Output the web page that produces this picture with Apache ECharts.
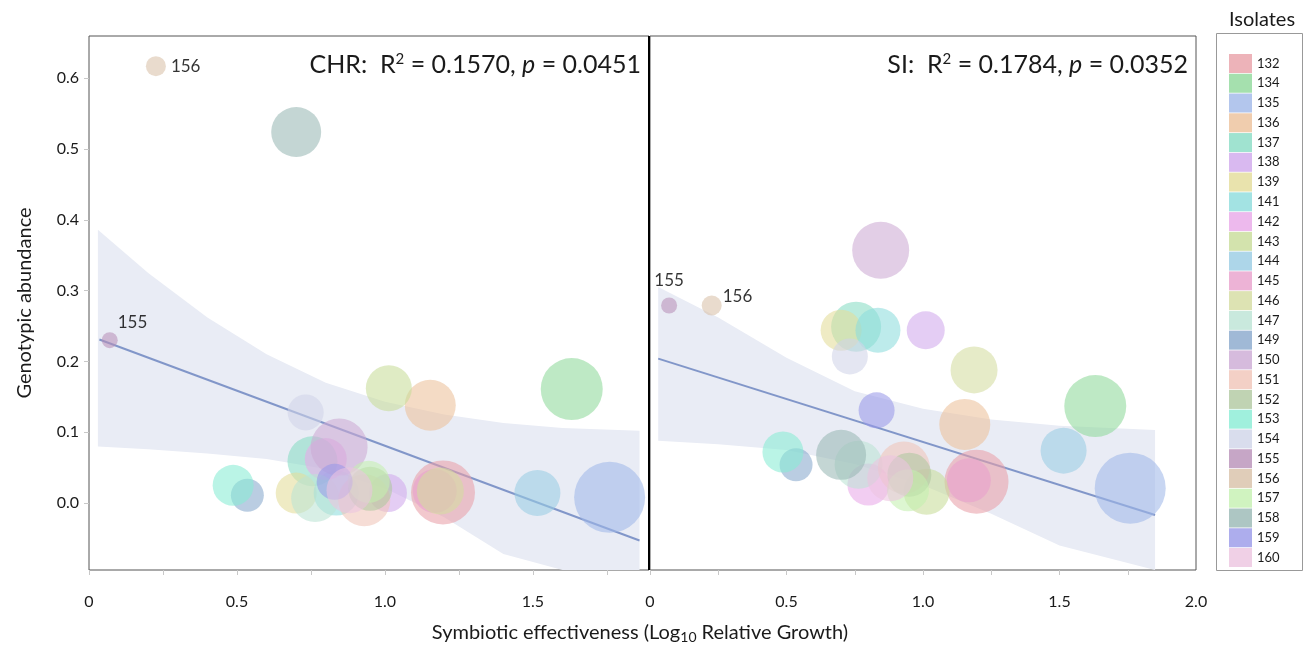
<!DOCTYPE html>
<html>
<head>
<meta charset="utf-8">
<title>Genotypic abundance vs symbiotic effectiveness</title>
<script src="https://cdn.jsdelivr.net/npm/echarts@6/dist/echarts.min.js"></script>
<style>
  html, body { margin: 0; padding: 0; background: #fff; }
  #chart { width: 1304px; height: 648px; }
</style>
</head>
<body>
<div id="chart"></div>
<script>
const isolates = ['132', '134', '135', '136', '137', '138', '139', '141', '142', '143', '144', '145', '146',
  '147', '149', '150', '151', '152', '153', '154', '155', '156', '157', '158', '159', '160']
const colors = ['#e8a0a8', '#8fd89a', '#a0b8e8', '#ecc09a', '#88dcc4', '#d0a8ec', '#e4dc98', '#8cdcdc', '#e8a8e8',
  '#c8dc98', '#98cce4', '#e8a0cc', '#d4dca0', '#bce4d4', '#88a8cc', '#ccaad4', '#f0c4b8', '#b0c8a0',
  '#88ecd4', '#d0d4e8', '#b890b8', '#d8c0a8', '#c4f0b0', '#98b8b4', '#9898e8', '#ecc4e0']

// symbiotic effectiveness (log10 relative growth), one per isolate
const effectiveness = [1.196, 1.631, 1.759, 1.153, 0.755, 1.01, 0.70, 0.835, 0.80, 1.013, 1.515, 1.168, 1.187,
  0.764, 0.535, 0.845, 0.93, 0.95, 0.487, 0.732, 0.07, 0.226, 0.945, 0.70, 0.83, 0.88]
// genotypic abundance in CHR and SI
const chrAbundance = [0.015, 0.161, 0.008, 0.138, 0.059, 0.014, 0.014, 0.014, 0.062, 0.162, 0.014, 0.017, 0.017,
  0.007, 0.011, 0.079, 0.004, 0.020, 0.025, 0.128, 0.230, 0.617, 0.030, 0.524, 0.030, 0.018]
const siAbundance = [0.030, 0.137, 0.021, 0.111, 0.249, 0.244, 0.244, 0.244, 0.026, 0.016, 0.074, 0.032, 0.188,
  0.054, 0.054, 0.357, 0.050, 0.040, 0.072, 0.207, 0.279, 0.279, 0.018, 0.068, 0.131, 0.035]
// bubble weight
const bubbleWeight = [6.4, 6.2, 7.1, 5.1, 5.0, 3.8, 4.1, 4.5, 4.2, 4.6, 4.6, 4.4, 4.7,
  4.8, 3.3, 5.7, 5.2, 4.4, 4.1, 3.6, 1.6, 2.0, 4.2, 5.0, 3.6, 4.6]

const xTicks = [0, 0.25, 0.5, 0.75, 1, 1.25, 1.5, 1.75]
const xLabelsChr = [0, 0.5, 1, 1.5]
const xLabelsSi = [0, 0.5, 1, 1.5, 2]
const yLabels = [0, 0.1, 0.2, 0.3, 0.4, 0.5, 0.6]

// fitted lines and confidence bands
const chrFitX = [0.035, 1.86]
const chrFitY = [0.231, -0.053]
const chrBandX = [0.03, 0.2, 0.4, 0.6, 0.8, 1.0, 1.2, 1.4, 1.6, 1.86]
const chrBandUpper = [0.386, 0.325, 0.262, 0.210, 0.170, 0.143, 0.125, 0.113, 0.106, 0.102]
const chrBandLower = [0.080, 0.076, 0.070, 0.062, 0.048, 0.021, -0.020, -0.072, -0.130, -0.210]

const siFitX = [0.03, 1.85]
const siFitY = [0.204, -0.017]
const siBandX = [0.03, 0.25, 0.5, 0.75, 1.0, 1.25, 1.5, 1.85]
const siBandUpper = [0.305, 0.262, 0.205, 0.158, 0.133, 0.118, 0.109, 0.103]
const siBandLower = [0.088, 0.083, 0.075, 0.055, 0.025, -0.015, -0.060, -0.140]

const FONT = 'Lato, "Open Sans", sans-serif'
const TXT = '#1a1a1a'
const BUBBLE_ALPHA = 0.72

function fmt(v) {
  return v === 0 ? '0' : v.toFixed(1)
}

function withAlpha(hex, a) {
  const n = parseInt(hex.slice(1), 16)
  return 'rgba(' + (n >> 16) + ',' + ((n >> 8) & 255) + ',' + (n & 255) + ',' + a + ')'
}

function bandSeries(xs, up, lo, idx) {
  const rows = xs.map((x, i) => [x, up[i], lo[i]])
  return {
    type: 'custom',
    xAxisIndex: idx,
    yAxisIndex: idx,
    silent: true,
    clip: true,
    z: 1,
    data: rows,
    renderItem: (params, api) => {
      if (params.dataIndex !== 0) return
      const top = rows.map((r) => api.coord([r[0], r[1]]))
      const bottom = rows.map((r) => api.coord([r[0], r[2]])).reverse()
      const cs = params.coordSys
      const pts = echarts.graphic.clipPointsByRect(top.concat(bottom), {
        x: cs.x, y: cs.y, width: cs.width, height: cs.height,
      })
      return {
        type: 'polygon',
        shape: { points: pts },
        style: { fill: '#e9ecf5' },
      }
    },
  }
}

function fitSeries(xs, ys, idx) {
  return {
    type: 'line',
    xAxisIndex: idx,
    yAxisIndex: idx,
    silent: true,
    showSymbol: false,
    z: 2,
    data: xs.map((x, i) => [x, ys[i]]),
    lineStyle: { color: '#4a68b0', width: 2, opacity: 0.65 },
  }
}

// empty series placed first so the legend picks up the solid swatch colours
function legendSeries() {
  return isolates.map((name, i) => ({
    name: name,
    type: 'scatter',
    data: [],
    itemStyle: { color: colors[i] },
  }))
}

function bubbleSeries(abundance, idx, labels) {
  return isolates.map((name, i) => ({
    name: name,
    type: 'scatter',
    xAxisIndex: idx,
    yAxisIndex: idx,
    z: 3,
    symbolSize: (v) => v[2] * 10,
    itemStyle: { color: withAlpha(colors[i], BUBBLE_ALPHA) },
    data: [{
      value: [effectiveness[i], abundance[i], bubbleWeight[i]],
      label: labels[name] ? Object.assign({
        show: true,
        formatter: name,
        fontSize: 17,
        fontFamily: FONT,
        color: '#000',
      }, labels[name]) : { show: false },
    }],
  }))
}

function xAxis(idx, labels) {
  return {
    type: 'value',
    gridIndex: idx,
    min: 0,
    max: idx === 0 ? 1.892 : 2.0,
    axisLine: { show: false, onZero: false },
    splitLine: { show: false },
    axisTick: {
      show: true,
      customValues: xTicks,
      length: 5,
      lineStyle: { color: '#c8c8c8' },
    },
    axisLabel: {
      customValues: labels,
      formatter: fmt,
      margin: 24,
      fontSize: 16,
      fontFamily: FONT,
      color: TXT,
    },
  }
}

function yAxis(idx) {
  const left = idx === 0
  return {
    type: 'value',
    gridIndex: idx,
    min: -0.0946,
    max: 0.6596,
    name: left ? 'Genotypic abundance' : '',
    nameLocation: 'middle',
    nameGap: 54,
    nameTextStyle: { fontSize: 20, fontFamily: FONT, color: TXT },
    axisLine: { show: false, onZero: false },
    splitLine: { show: false },
    axisTick: {
      show: left,
      customValues: yLabels,
      length: 5,
      lineStyle: { color: '#c8c8c8' },
    },
    axisLabel: {
      show: left,
      customValues: yLabels,
      formatter: (v) => v.toFixed(1),
      margin: 10,
      fontSize: 16,
      fontFamily: FONT,
      color: TXT,
    },
  }
}

const chrLabels = {
  '155': { position: 'right', distance: 0, offset: [0, -18] },
  '156': { position: 'right', distance: 5 },
}
const siLabels = {
  '155': { position: 'top', distance: 8 },
  '156': { position: 'right', distance: 1, offset: [0, -9] },
}

const richStats = {
  sup: { fontSize: 15, fontFamily: FONT, padding: [0, 0, 12, 0], fill: TXT },
  it: { fontSize: 25, fontFamily: FONT, fontStyle: 'italic', fill: TXT },
}

let chart = echarts.init(document.getElementById('chart'))
let option = {
  animation: false,
  backgroundColor: '#fff',
  grid: [
    { left: 89, top: 36, width: 560, height: 534, show: true, borderColor: '#555', borderWidth: 1 },
    { left: 650, top: 36, width: 546, height: 534, show: true, borderColor: '#555', borderWidth: 1 },
  ],
  xAxis: [xAxis(0, xLabelsChr), xAxis(1, xLabelsSi)],
  yAxis: [yAxis(0), yAxis(1)],
  legend: {
    data: isolates,
    orient: 'vertical',
    left: 1229,
    top: 54,
    padding: 0,
    icon: 'rect',
    itemWidth: 23,
    itemHeight: 19,
    itemGap: 0.76,
    selectedMode: false,
    itemStyle: { borderWidth: 0 },
    textStyle: { fontSize: 13, fontFamily: FONT, color: TXT },
  },
  graphic: [
    {
      type: 'rect',
      shape: { x: 1216.5, y: 33.5, width: 86, height: 537 },
      style: { fill: 'none', stroke: '#999', lineWidth: 1 },
    },
    {
      type: 'text',
      x: 1262, y: 20,
      style: { text: 'Isolates', fontSize: 20, fontFamily: FONT, fill: TXT, align: 'center', verticalAlign: 'middle' },
    },
    {
      type: 'line',
      shape: { x1: 649, y1: 36, x2: 649, y2: 570 },
      style: { stroke: '#000', lineWidth: 2 },
      z: 10,
    },
    {
      type: 'text',
      x: 641, y: 65,
      style: {
        text: 'CHR:  R{sup|2} = 0.1570, {it|p} = 0.0451',
        rich: richStats,
        fontSize: 25, fontFamily: FONT, fill: TXT, align: 'right', verticalAlign: 'middle',
      },
    },
    {
      type: 'text',
      x: 1188, y: 65,
      style: {
        text: 'SI:  R{sup|2} = 0.1784, {it|p} = 0.0352',
        rich: richStats,
        fontSize: 25, fontFamily: FONT, fill: TXT, align: 'right', verticalAlign: 'middle',
      },
    },
    {
      type: 'text',
      x: 640, y: 633,
      style: {
        text: 'Symbiotic effectiveness (Log{sub|10} Relative Growth)',
        rich: { sub: { fontSize: 14, fontFamily: FONT, padding: [9, 0, 0, 0], fill: TXT } },
        fontSize: 20, fontFamily: FONT, fill: TXT, align: 'center', verticalAlign: 'middle',
      },
    },
  ],
  series: [
    ...legendSeries(),
    bandSeries(chrBandX, chrBandUpper, chrBandLower, 0),
    bandSeries(siBandX, siBandUpper, siBandLower, 1),
    fitSeries(chrFitX, chrFitY, 0),
    fitSeries(siFitX, siFitY, 1),
    ...bubbleSeries(chrAbundance, 0, chrLabels),
    ...bubbleSeries(siAbundance, 1, siLabels),
  ],
}
chart.setOption(option)
window.addEventListener('resize', () => {
  chart.resize()
})
</script>
</body>
</html>
